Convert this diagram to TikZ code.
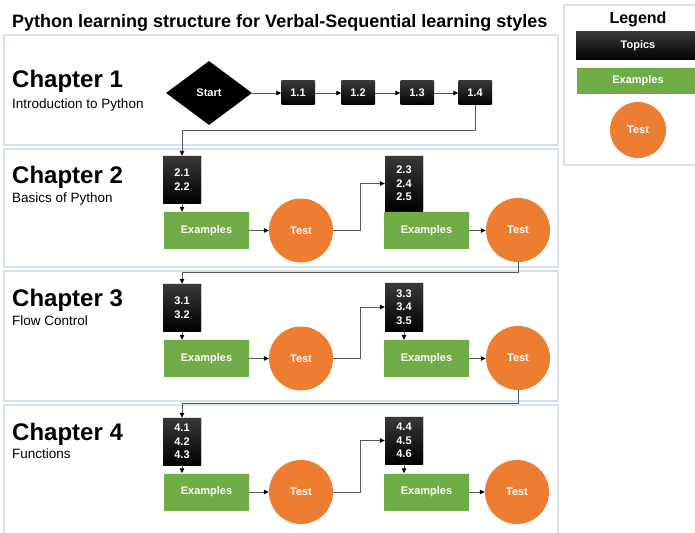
\documentclass[tikz,border=0pt]{standalone}
\usepackage{fontspec}
\setmainfont{Liberation Sans}
\usetikzlibrary{arrows.meta,shapes.geometric,shadows}

\definecolor{exgreen}{HTML}{70AD47}
\definecolor{testorange}{HTML}{ED7D31}
\definecolor{panelline}{HTML}{D9E1EA}
\definecolor{connline}{HTML}{5A5A5A}

\tikzset{
  panel/.style={draw=panelline, line width=1.1pt, fill=white},
  topicbox/.style={rectangle, inner sep=0pt, align=center, text=white,
    top color=black!78, middle color=black, bottom color=black,
    font=\bfseries\fontsize{11}{13.5}\selectfont,
    drop shadow={opacity=0.25, shadow xshift=1pt, shadow yshift=1pt}},
  examplebox/.style={rectangle, inner sep=0pt, fill=exgreen, text=white,
    minimum width=85pt, minimum height=37pt,
    font=\bfseries\fontsize{11}{13}\selectfont,
    drop shadow={opacity=0.15, shadow xshift=0.8pt, shadow yshift=0.8pt}},
  testcircle/.style={circle, inner sep=0pt, fill=testorange, text=white,
    minimum size=64pt, font=\bfseries\fontsize{11}{13}\selectfont},
  startshape/.style={diamond, inner sep=0pt, fill=black, text=white,
    minimum width=86pt, minimum height=64pt,
    font=\bfseries\fontsize{11}{13}\selectfont},
  chaptitle/.style={anchor=base west, inner sep=0pt,
    font=\bfseries\fontsize{24}{28}\selectfont},
  chapsub/.style={anchor=base west, inner sep=0pt,
    font=\fontsize{13.5}{16}\selectfont},
  conn/.style={draw=connline, line width=0.8pt,
    -{Triangle[length=5pt,width=4.5pt,color=black]}},
}

\begin{document}
\begin{tikzpicture}[x=1pt,y=-1pt]
\useasboundingbox (0,0) rectangle (695,532);
\clip (0,0) rectangle (695,532);

% chapter panels and legend panel
\draw[panel] (4,35) rectangle (558,145);
\draw[panel] (4,149) rectangle (558,267);
\draw[panel] (4,271) rectangle (558,401);
\draw[panel] (4,405) rectangle (558,545);
\draw[panel] (564,5) rectangle (718,165);

% heading
\node[anchor=base west, inner sep=0pt, font=\bfseries\fontsize{18}{21}\selectfont]
  (title) at (12,28) {Python learning structure for Verbal-Sequential learning styles};

% chapter labels
\node[chaptitle] (c1) at (12,88) {Chapter 1};
\node[chapsub] (s1) at (12,108) {Introduction to Python};
\node[chaptitle] (c2) at (12,183) {Chapter 2};
\node[chapsub] (s2) at (12,202) {Basics of Python};
\node[chaptitle] (c3) at (12,306) {Chapter 3};
\node[chapsub] (s3) at (12,325) {Flow Control};
\node[chaptitle] (c4) at (12,440) {Chapter 4};
\node[chapsub] (s4) at (12,458) {Functions};

% legend
\node[font=\bfseries\fontsize{16}{19}\selectfont] (lgd) at (638,19) {Legend};
\node[topicbox, minimum width=124pt, minimum height=28pt] (lt) at (638,46) {Topics};
\node[examplebox, minimum width=122pt, minimum height=26pt] (le) at (638,81) {Examples};
\node[testcircle, minimum size=56pt] (ltest) at (638,130) {Test};

% chapter 1
\node[startshape] (start) at (209,93) {Start};
\node[topicbox, minimum width=33pt, minimum height=24pt] (b11) at (298,93) {1.1};
\node[topicbox, minimum width=33pt, minimum height=24pt] (b12) at (358,93) {1.2};
\node[topicbox, minimum width=33pt, minimum height=24pt] (b13) at (417,93) {1.3};
\node[topicbox, minimum width=33pt, minimum height=24pt] (b14) at (475,93) {1.4};
\draw[conn] (start) -- (b11);
\draw[conn] (b11) -- (b12);
\draw[conn] (b12) -- (b13);
\draw[conn] (b13) -- (b14);

% chapter 2
\node[topicbox, minimum width=38pt, minimum height=47pt] (b21) at (182,179.5) {2.1\\2.2};
\node[examplebox] (e21) at (206.5,230.5) {Examples};
\node[testcircle] (t21) at (301,230.5) {Test};
\node[topicbox, minimum width=38pt, minimum height=55pt] (b23) at (404,183.5) {2.3\\2.4\\2.5};
\node[examplebox] (e22) at (426.5,230.5) {Examples};
\node[testcircle] (t22) at (518,230) {Test};

% chapter 3
\node[topicbox, minimum width=38pt, minimum height=47pt] (b31) at (182,307.5) {3.1\\3.2};
\node[examplebox] (e31) at (206.5,358.5) {Examples};
\node[testcircle] (t31) at (301,358.5) {Test};
\node[topicbox, minimum width=38pt, minimum height=48pt] (b33) at (404,307) {3.3\\3.4\\3.5};
\node[examplebox] (e32) at (426.5,358.5) {Examples};
\node[testcircle] (t32) at (518,358) {Test};

% chapter 4
\node[topicbox, minimum width=38pt, minimum height=47pt] (b41) at (182,441.5) {4.1\\4.2\\4.3};
\node[examplebox] (e41) at (206.5,492) {Examples};
\node[testcircle] (t41) at (301,492) {Test};
\node[topicbox, minimum width=38pt, minimum height=47pt] (b44) at (404,440.5) {4.4\\4.5\\4.6};
\node[examplebox] (e42) at (426.5,492) {Examples};
\node[testcircle] (t42) at (517,492) {Test};

% hand-over points between chapters
\coordinate (j1) at (0,130);
\coordinate (j2) at (0,272);
\coordinate (j3) at (0,403);

% chapter 1 -> chapter 2
\draw[conn] (b14.south) -- (b14.south |- j1) -| (b21.north);
% chapter 2 flow
\draw[conn] (b21.south) -- (b21.south |- e21.north);
\draw[conn] (e21) -- (t21);
\draw[conn] (t21.east) -- ++(27,0) |- (b23.west);
\draw[conn] (b23.south) -- (b23.south |- e22.north);
\draw[conn] (e22.east) -- (e22.east -| t22.west);
\draw[conn] (t22.south) -- (t22.south |- j2) -| (b31.north);
% chapter 3 flow
\draw[conn] (b31.south) -- (b31.south |- e31.north);
\draw[conn] (e31) -- (t31);
\draw[conn] (t31.east) -- ++(27,0) |- (b33.west);
\draw[conn] (b33.south) -- (b33.south |- e32.north);
\draw[conn] (e32.east) -- (e32.east -| t32.west);
\draw[conn] (t32.south) -- (t32.south |- j3) -| (b41.north);
% chapter 4 flow
\draw[conn] (b41.south) -- (b41.south |- e41.north);
\draw[conn] (e41) -- (t41);
\draw[conn] (t41.east) -- ++(27,0) |- (b44.west);
\draw[conn] (b44.south) -- (b44.south |- e42.north);
\draw[conn] (e42) -- (t42);
\end{tikzpicture}
\end{document}
